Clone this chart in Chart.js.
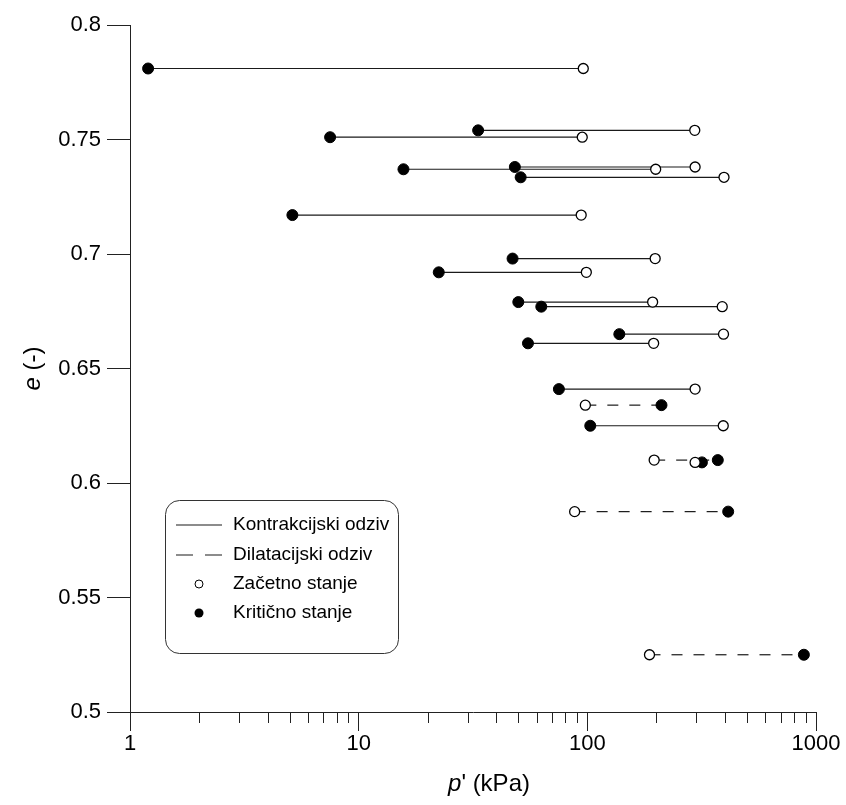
<!DOCTYPE html>
<html>
<head>
<meta charset="utf-8">
<script src="https://cdn.jsdelivr.net/npm/chart.js@4.4.1/dist/chart.umd.min.js"></script>
<style>
  body { margin: 0; background: #fff; }
  #wrap { width: 846px; height: 805px; }
</style>
</head>
<body>
<div id="wrap"><canvas id="stateChart" width="846" height="805"></canvas></div>
<script>
// void ratio e and mean effective stress p' (kPa) for each test
let eValues   = [0.781, 0.754, 0.751, 0.738, 0.737, 0.7335, 0.717, 0.698, 0.692, 0.679, 0.677, 0.665, 0.661, 0.641, 0.634, 0.625, 0.610, 0.609, 0.5875, 0.525];
let pInitial  = [96, 295, 95, 296, 199, 396, 94, 198, 99, 193, 389, 394, 195, 296, 98, 393, 196, 296, 88, 187];
let pCritical = [1.2, 33.3, 7.5, 48.2, 15.7, 51.1, 5.13, 47.1, 22.4, 49.9, 62.9, 138, 55, 75.1, 211, 103, 372, 317, 413, 885];
// K = kontrakcijski (solid), D = dilatacijski (dashed)
let responseType = ['K','K','K','K','K','K','K','K','K','K','K','K','K','K','D','K','D','D','D','D'];

let xMajorTicks = [1, 10, 100, 1000];
let xMinorTicks = [2,3,4,5,6,7,8,9, 20,30,40,50,60,70,80,90, 200,300,400,500,600,700,800,900];
let yTicks = [0.5, 0.55, 0.6, 0.65, 0.7, 0.75, 0.8];

let legendLabels = ['Kontrakcijski odziv', 'Dilatacijski odziv', 'Začetno stanje', 'Kritično stanje'];

const FONT = 'Liberation Sans, Arial, sans-serif';

function DrawChart() {
    var context = document.getElementById('stateChart');

    let datasets = [];
    for (let i = 0; i < eValues.length; i++) {
        datasets.push({
            type: 'line',
            showLine: true,
            data: [{x: pInitial[i], y: eValues[i]}, {x: pCritical[i], y: eValues[i]}],
            borderColor: '#1a1a1a',
            borderWidth: 1.2,
            borderDash: responseType[i] === 'D' ? [11, 11] : [],
            pointRadius: 0,
            order: 2
        });
    }
    datasets.push({
        label: 'Začetno stanje',
        data: pInitial.map((p, i) => ({x: p, y: eValues[i]})),
        pointRadius: 5,
        pointBackgroundColor: '#fff',
        pointBorderColor: '#000',
        pointBorderWidth: 1.3,
        order: 0
    });
    datasets.push({
        label: 'Kritično stanje',
        data: pCritical.map((p, i) => ({x: p, y: eValues[i]})),
        pointRadius: 5.5,
        pointBackgroundColor: '#000',
        pointBorderColor: '#000',
        pointBorderWidth: 1,
        order: 1
    });

    // minor log ticks, axis titles with italic symbols, and the boxed legend
    let extras = {
        id: 'extras',
        afterDraw(chart) {
            const ctx = chart.ctx;
            const xs = chart.scales.x;
            const bottom = chart.chartArea.bottom;
            ctx.save();
            ctx.strokeStyle = '#222';
            ctx.lineWidth = 1;
            xMinorTicks.forEach(v => {
                const px = Math.round(xs.getPixelForValue(v)) + 0.5;
                ctx.beginPath();
                ctx.moveTo(px, bottom);
                ctx.lineTo(px, bottom + 11);
                ctx.stroke();
            });

            // x title: p' (kPa)
            ctx.fillStyle = '#000';
            ctx.textBaseline = 'middle';
            const xt1 = 'p', xt2 = "' (kPa)";
            ctx.font = 'italic 24px ' + FONT;
            const w1 = ctx.measureText(xt1).width;
            ctx.font = '24px ' + FONT;
            const w2 = ctx.measureText(xt2).width;
            const cx = (chart.chartArea.left + chart.chartArea.right) / 2;
            let sx = cx - (w1 + w2) / 2 + 16;
            ctx.font = 'italic 24px ' + FONT;
            ctx.textAlign = 'left';
            ctx.fillText(xt1, sx, 784);
            ctx.font = '24px ' + FONT;
            ctx.fillText(xt2, sx + w1, 784);

            // y title: e (-)
            ctx.save();
            ctx.translate(33, (chart.chartArea.top + chart.chartArea.bottom) / 2);
            ctx.rotate(-Math.PI / 2);
            const yt1 = 'e', yt2 = ' (-)';
            ctx.font = 'italic 24px ' + FONT;
            const v1 = ctx.measureText(yt1).width;
            ctx.font = '24px ' + FONT;
            const v2 = ctx.measureText(yt2).width;
            let sy = -(v1 + v2) / 2;
            ctx.font = 'italic 24px ' + FONT;
            ctx.fillText(yt1, sy, 0);
            ctx.font = '24px ' + FONT;
            ctx.fillText(yt2, sy + v1, 0);
            ctx.restore();

            // legend box
            const bx = 165, by = 500, bw = 233, bh = 153, r = 14;
            ctx.beginPath();
            ctx.roundRect(bx + 0.5, by + 0.5, bw, bh, r);
            ctx.fillStyle = '#fff';
            ctx.fill();
            ctx.strokeStyle = '#333';
            ctx.lineWidth = 1;
            ctx.stroke();

            const rows = [525, 555, 584, 613];
            ctx.strokeStyle = '#1a1a1a';
            ctx.lineWidth = 1.2;
            ctx.beginPath();
            ctx.moveTo(176, rows[0]); ctx.lineTo(222, rows[0]);
            ctx.stroke();
            ctx.setLineDash([17, 12]);
            ctx.beginPath();
            ctx.moveTo(176, rows[1]); ctx.lineTo(222, rows[1]);
            ctx.stroke();
            ctx.setLineDash([]);
            ctx.beginPath();
            ctx.arc(199, rows[2], 4, 0, Math.PI * 2);
            ctx.fillStyle = '#fff';
            ctx.fill();
            ctx.lineWidth = 1;
            ctx.strokeStyle = '#000';
            ctx.stroke();
            ctx.beginPath();
            ctx.arc(199, rows[3], 4.5, 0, Math.PI * 2);
            ctx.fillStyle = '#000';
            ctx.fill();

            ctx.font = '19px ' + FONT;
            ctx.fillStyle = '#000';
            ctx.textAlign = 'left';
            legendLabels.forEach((t, i) => ctx.fillText(t, 233, rows[i]));
            ctx.restore();
        }
    };

    let config = {
        type: 'scatter',
        data: { datasets: datasets },
        options: {
            responsive: false,
            devicePixelRatio: 1,
            animation: { duration: 0 },
            layout: { padding: { top: 25, right: 30, left: 0, bottom: 0 } },
            plugins: {
                legend: { display: false },
                tooltip: { enabled: false }
            },
            scales: {
                x: {
                    type: 'logarithmic',
                    min: 1,
                    max: 1000,
                    afterBuildTicks: s => { s.ticks = xMajorTicks.map(v => ({value: v})); },
                    afterFit: s => { s.height = 93; },
                    ticks: {
                        color: '#000',
                        font: { family: FONT, size: 22 },
                        padding: 0,
                        maxRotation: 0,
                        autoSkip: false,
                        callback: v => String(v)
                    },
                    grid: { drawOnChartArea: false, tickLength: 19, tickColor: '#222', tickWidth: 1 },
                    border: { color: '#222', width: 1 }
                },
                y: {
                    min: 0.5,
                    max: 0.8,
                    afterBuildTicks: s => { s.ticks = yTicks.map(v => ({value: v})); },
                    afterFit: s => { s.width = 130; },
                    ticks: {
                        color: '#000',
                        font: { family: FONT, size: 22 },
                        padding: 6,
                        callback: v => String(Math.round(v * 100) / 100)
                    },
                    grid: { drawOnChartArea: false, tickLength: 23, tickColor: '#222', tickWidth: 1 },
                    border: { color: '#222', width: 1 }
                }
            }
        },
        plugins: [extras]
    };
    new Chart(context, config);
}

DrawChart();
</script>
</body>
</html>
